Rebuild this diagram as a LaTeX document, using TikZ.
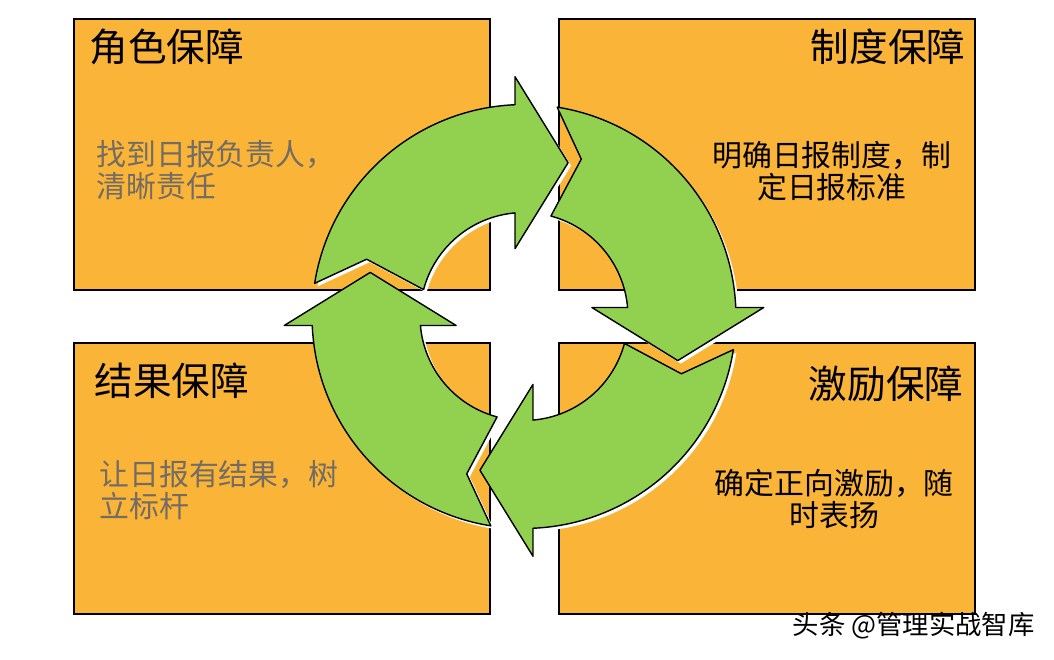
\documentclass[tikz,border=0pt]{standalone}
\usepackage{fontspec}
\setmainfont{Noto Sans CJK SC}
\usetikzlibrary{positioning}
\definecolor{boxorange}{RGB}{250,180,55}
\definecolor{cyclegreen}{RGB}{146,208,80}
\definecolor{softgray}{RGB}{115,108,100}
\tikzset{
    box/.style={draw, line width=1.1pt, fill=boxorange, minimum width=8.32cm, minimum height=5.42cm}, % the four orange panels
    title/.style={inner sep=0pt, font=\fontsize{22}{26}\selectfont}, % panel headings
    body/.style={inner sep=0pt, font=\fontsize{17}{18.2}\selectfont}, % panel texts
    cycle/.style={fill=cyclegreen, draw=black, line width=0.8pt, line join=round}, % the green arrows
    node distance=1.34cm,
}
% one arrow of the cycle, turned clockwise by #1 degrees round the centre
\newcommand{\cyclepath}[1]{(171-#1:4.24cm) arc[start angle=171-#1, end angle=92.43-#1, radius=4.24cm]
    -- (92.15-#1:4.8cm) -- (74-#1:3.2cm) -- (97.54-#1:1.37cm) -- (94.96-#1:2.08cm)
    arc[start angle=94.96-#1, end angle=165-#1, radius=2.08cm] -- (160-#1:3.35cm) -- cycle}

\begin{document}
\begin{tikzpicture}[x=0.02cm, y=0.02cm]
\useasboundingbox (0,0) rectangle (1054,659);

\node[box] (b1) at (282,504.5) {};
\node[box, right=of b1] (b2) {};
\node[box, below=1.02cm of b1] (b3) {};
\node[box, right=of b3] (b4) {};

\node[title, anchor=west] (t1) at ([shift={(16,-29)}]b1.north west) {角色保障};
\node[title, anchor=east] (t2) at ([shift={(-10,-29)}]b2.north east) {制度保障};
\node[title, anchor=west] (t3) at ([shift={(21,-39)}]b3.north west) {结果保障};
\node[title, anchor=east] (t4) at ([shift={(-12,-42)}]b4.north east) {激励保障};

\node[body, softgray, anchor=north west, align=left] (d1) at ([shift={(23,-122)}]b1.north west) {找到日报负责人，\\清晰责任};
\node[body, align=center] (d2) at ([shift={(65,-153)}]b2.north) {明确日报制度，制\\定日报标准};
\node[body, softgray, anchor=north west, align=left] (d3) at ([shift={(26,-118)}]b3.north west) {让日报有结果，树\\立标杆};
\node[body, align=center] (d4) at ([shift={(67.5,-157)}]b4.north) {确定正向激励，随\\时表扬};

\begin{scope}[shift={(527,339.5)}]
\foreach \r in {0,90,180,270}
    \fill[white] \cyclepath{\r};
\end{scope}
\begin{scope}[shift={(524,342.5)}]
\foreach \r in {0,90,180,270}
    \draw[cycle] \cyclepath{\r};
\end{scope}

\node[anchor=east, inner sep=0pt, font=\fontsize{15}{18}\selectfont] (mark) at (1035,33) {头条 @管理实战智库};
\end{tikzpicture}
\end{document}
